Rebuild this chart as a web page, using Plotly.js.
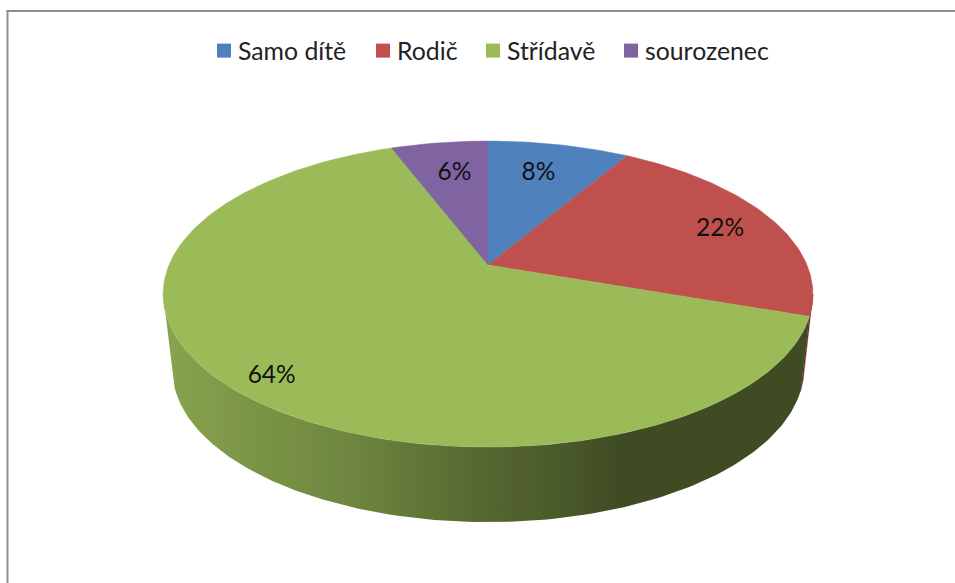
<!DOCTYPE html>
<html>
<head>
<meta charset="utf-8">
<script src="https://cdn.plot.ly/plotly-3.0.1.min.js"></script>
<style>html,body{margin:0;padding:0;background:#fff}#chart{width:955px;height:583px}</style>
</head>
<body>
<div id="chart"></div>
<script>
// Data
var categories = ["Samo dítě", "Rodič", "Střídavě", "sourozenec"];
var shares = [8.49, 21.81, 63.9, 5.8];
var colors = ["#4f81bd", "#c0504d", "#9bbb59", "#8064a2"];
var wallColors = ["#3a4a66", "#6b2422", "#3f4b23", "#4a3a60"];

// Where the text of each legend entry starts (px) and how the label sits on its slice
var legendTextX = [238, 397, 507, 645];
var labelRadius = [0.75, 0.82, 0.86, 0.74];
var labelNudge = [[-5, 3], [-1, 4], [0, 9], [4, 3]];

// Perspective disc
var W = 955, H = 583;
var cx = 488, cy = 265, persp = 0.19, radX = 319, radY = 147.5, depth = 75, floorScale = 0.972;
function rim(deg, f) {
  var t = deg * Math.PI / 180, d = 1 + persp * f * Math.cos(t);
  return [radX * f * Math.sin(t) / d, -radY * f * Math.cos(t) / d];
}
function topPt(deg, f) { var p = rim(deg, f); return [cx + p[0], cy + p[1]]; }
function floorPt(deg) { var p = rim(deg, 1); return [cx + floorScale * p[0], cy + depth + p[1]]; }
function range(a, b) { var o = [], n = Math.max(2, Math.ceil(Math.abs(b - a))); for (var i = 0; i <= n; i++) o.push(a + (b - a) * i / n); return o; }

var total = shares.reduce(function (a, b) { return a + b; }, 0);
var edges = [0];
shares.forEach(function (v, i) { edges.push(edges[i] + v / total * 360); });
var sideLimit = Math.acos(-persp) * 180 / Math.PI;

function wallTrace(a, b, extra) {
  var angs = range(a, b), xs = [], ys = [];
  angs.forEach(function (d) { var p = topPt(d, 1); xs.push(p[0]); ys.push(p[1]); });
  angs.slice().reverse().forEach(function (d) { var p = floorPt(d); xs.push(p[0]); ys.push(p[1]); });
  xs.push(xs[0]); ys.push(ys[0]);
  return Object.assign({ type: "scatter", mode: "lines", x: xs, y: ys, fill: "toself", line: { width: 0 }, hoverinfo: "skip", showlegend: false }, extra);
}

var traces = [];
// Front wall of the disc
traces.push(wallTrace(sideLimit, edges[2], { fillcolor: wallColors[1], line: { width: 0.5, color: wallColors[1] } }));
traces.push(wallTrace(edges[2], 360 - sideLimit, {
  fillcolor: wallColors[2],
  fillgradient: {
    type: "horizontal", start: 163, stop: 810,
    colorscale: [[0, "#89a44e"], [0.13, "#7c9647"], [0.3, "#6d853f"], [0.5, "#566630"], [0.62, "#4a592a"], [0.71, "#3f4b23"], [1, "#3f4b23"]]
  }
}));
// Top face
shares.forEach(function (v, i) {
  var xs = [cx], ys = [cy];
  range(edges[i], edges[i + 1]).forEach(function (d) { var p = topPt(d, 1); xs.push(p[0]); ys.push(p[1]); });
  xs.push(cx); ys.push(cy);
  traces.push({ type: "scatter", mode: "lines", x: xs, y: ys, fill: "toself", fillcolor: colors[i], line: { width: 0.5, color: colors[i] }, hoverinfo: "skip", showlegend: false });
});
// Percentage labels
shares.forEach(function (v, i) {
  var p = topPt((edges[i] + edges[i + 1]) / 2, labelRadius[i]);
  traces.push({ type: "scatter", mode: "text", x: [p[0] + labelNudge[i][0]], y: [p[1] + labelNudge[i][1]], text: [Math.round(v / total * 100) + "%"], textposition: "middle center", textfont: { family: "Lato, sans-serif", size: 24.5, color: "#111111" }, hoverinfo: "skip", showlegend: false });
});
// Legend entries
var layoutLegends = {};
categories.forEach(function (c, i) {
  var key = i === 0 ? "legend" : "legend" + (i + 1);
  traces.push({ type: "scatter", mode: "markers", x: [null], y: [null], name: c, legend: key, marker: { symbol: "square", size: 14, color: colors[i] }, hoverinfo: "skip" });
  layoutLegends[key] = { x: (legendTextX[i] - 40) / W, xanchor: "left", y: 1 - 51 / H, yanchor: "middle", orientation: "h", bgcolor: "rgba(0,0,0,0)", borderwidth: 0, itemclick: false, itemdoubleclick: false, font: { family: "Lato, sans-serif", size: 24.8, color: "#222222" } };
});

var layout = Object.assign({
  width: W, height: H, autosize: false,
  margin: { l: 0, r: 0, t: 0, b: 0 },
  paper_bgcolor: "#ffffff", plot_bgcolor: "#ffffff",
  xaxis: { range: [0, W], visible: false, fixedrange: true },
  yaxis: { range: [H, 0], visible: false, fixedrange: true },
  showlegend: true,
  shapes: [
    { type: "line", xref: "paper", yref: "paper", x0: 7.5 / W, x1: 7.5 / W, y0: 0, y1: 1 - 10.5 / H, line: { color: "#8f8f8f", width: 2 } },
    { type: "line", xref: "paper", yref: "paper", x0: 6.5 / W, x1: 1, y0: 1 - 11 / H, y1: 1 - 11 / H, line: { color: "#8f8f8f", width: 2 } }
  ]
}, layoutLegends);

Plotly.newPlot("chart", traces, layout, { displayModeBar: false, staticPlot: true }).then(function (gd) {
  // Bring each swatch next to its text, as in the reference
  gd.querySelectorAll(".legendpoints").forEach(function (g) { g.setAttribute("transform", "translate(6,0)"); });
});
</script>
</body>
</html>
